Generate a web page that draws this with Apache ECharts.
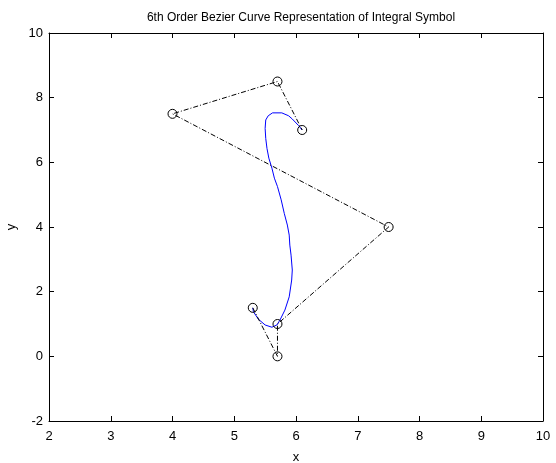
<!DOCTYPE html>
<html>
<head>
<meta charset="utf-8">
<script src="https://cdn.jsdelivr.net/npm/echarts@6/dist/echarts.min.js"></script>
<style>
  html, body { margin: 0; padding: 0; background: #fff; }
  #chart { width: 556px; height: 463px; }
</style>
</head>
<body>
<div id="chart"></div>
<script>
// control polygon (7 points, 6th order)
const ctrlX = [5.3, 5.7, 5.7, 7.5, 4.0, 5.7, 6.1];
const ctrlY = [1.5, 0.0, 1.0, 4.0, 7.5, 8.5, 7.0];

// blue curve
const curveX = [5.30, 5.31, 5.39, 5.50, 5.61, 5.69, 5.74, 5.82, 5.89, 5.93, 5.94, 5.92, 5.90, 5.89, 5.86,
  5.81, 5.76, 5.70, 5.65, 5.61, 5.56, 5.53, 5.51, 5.50, 5.51, 5.55, 5.62, 5.77, 5.88, 5.94, 6.04, 6.10];
const curveY = [1.50, 1.38, 1.15, 0.97, 0.90, 0.97, 1.12, 1.43, 1.84, 2.36, 2.67, 3.13, 3.44, 3.75, 4.06,
  4.42, 4.84, 5.25, 5.51, 5.82, 6.13, 6.43, 6.74, 7.05, 7.31, 7.44, 7.53, 7.53, 7.44, 7.34, 7.14, 7.00];

const xTicks = [2, 10, 1];
const yTicks = [-2, 10, 2];

const font = 'Liberation Sans, Arial, sans-serif';
const pairs = (xs, ys) => xs.map((x, i) => [x, ys[i]]);

const chart = echarts.init(document.getElementById('chart'));

const axisBase = {
  axisLine: { show: true, onZero: false, lineStyle: { color: '#000', width: 1 } },
  axisTick: { show: true, inside: true, length: 5, lineStyle: { color: '#000' } },
  splitLine: { show: false },
};

chart.setOption({
  backgroundColor: '#fff',
  animation: false,
  title: {
    text: '6th Order Bezier Curve Representation of Integral Symbol',
    left: 296,
    textAlign: 'center',
    top: 7,
    textStyle: { fontFamily: font, fontSize: 12, fontWeight: 'normal', color: '#000' },
  },
  grid: { left: 49, right: 13, top: 33, bottom: 42, containLabel: false, outerBoundsMode: 'none' },
  xAxis: [
    {
      ...axisBase,
      type: 'value',
      min: xTicks[0],
      max: xTicks[1],
      interval: xTicks[2],
      position: 'bottom',
      name: 'x',
      nameLocation: 'middle',
      nameGap: 30,
      nameTextStyle: { fontFamily: font, fontSize: 13, color: '#000' },
      axisLabel: { fontFamily: font, fontSize: 13, color: '#000', margin: 9 },
    },
    {
      ...axisBase,
      type: 'value',
      min: xTicks[0],
      max: xTicks[1],
      interval: xTicks[2],
      position: 'top',
      axisLabel: { show: false },
    },
  ],
  yAxis: [
    {
      ...axisBase,
      type: 'value',
      min: yTicks[0],
      max: yTicks[1],
      interval: yTicks[2],
      position: 'left',
      name: 'y',
      nameLocation: 'middle',
      nameGap: 31,
      nameTextStyle: { fontFamily: font, fontSize: 13, color: '#000' },
      axisLabel: { fontFamily: font, fontSize: 13, color: '#000', margin: 6 },
    },
    {
      ...axisBase,
      type: 'value',
      min: yTicks[0],
      max: yTicks[1],
      interval: yTicks[2],
      position: 'right',
      axisLabel: { show: false },
    },
  ],
  series: [
    {
      type: 'line',
      data: pairs(curveX, curveY),
      showSymbol: false,
      symbol: 'none',
      smooth: false,
      lineStyle: { color: '#0000ff', width: 1 },
      z: 2,
    },
    {
      type: 'line',
      data: pairs(ctrlX, ctrlY),
      symbol: 'circle',
      symbolSize: 9,
      showAllSymbol: true,
      itemStyle: { color: 'rgba(0,0,0,0)', borderColor: '#000', borderWidth: 1 },
      lineStyle: { color: '#000', width: 1, type: [5, 2, 1, 2] },
      z: 3,
    },
  ],
});
</script>
</body>
</html>
